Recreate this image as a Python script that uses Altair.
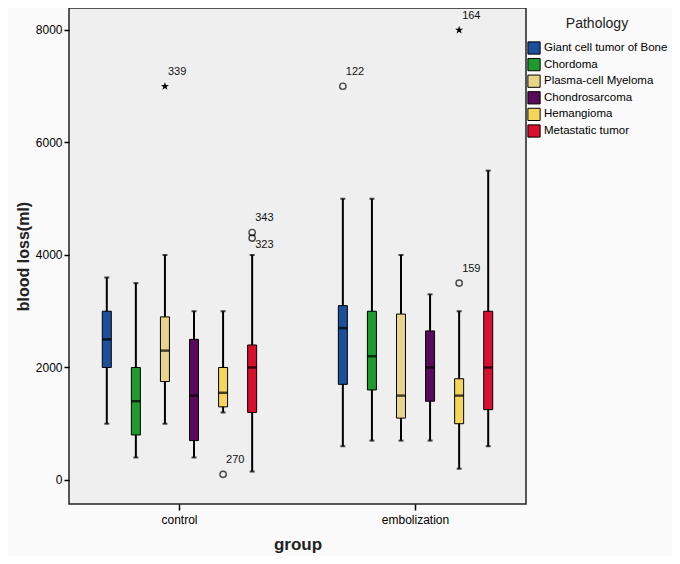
import altair as alt
import pandas as pd

groups = ["control", "embolization"]
pathologies = ["Giant cell tumor of Bone", "Chordoma", "Plasma-cell Myeloma",
               "Chondrosarcoma", "Hemangioma", "Metastatic tumor"]
colors = ["#1c4f9c", "#1f9a2e", "#e9d48a", "#5a0a5a", "#f5d55a", "#d8102e"]

control_low = [1000, 400, 1000, 400, 1200, 150]
control_q1 = [2000, 800, 1750, 700, 1300, 1200]
control_med = [2500, 1400, 2300, 1500, 1550, 2000]
control_q3 = [3000, 2000, 2900, 2500, 2000, 2400]
control_high = [3600, 3500, 4000, 3000, 3000, 4000]

emb_low = [600, 700, 700, 700, 200, 600]
emb_q1 = [1700, 1600, 1100, 1400, 1000, 1250]
emb_med = [2700, 2200, 1500, 2000, 1500, 2000]
emb_q3 = [3100, 3000, 2950, 2650, 1800, 3000]
emb_high = [5000, 5000, 4000, 3300, 3000, 5500]

outlier_group = ["control", "control", "control", "control",
                 "embolization", "embolization", "embolization"]
outlier_path = ["Plasma-cell Myeloma", "Hemangioma", "Metastatic tumor", "Metastatic tumor",
                "Giant cell tumor of Bone", "Hemangioma", "Hemangioma"]
outlier_value = [7000, 100, 4400, 4300, 7000, 3500, 8000]
outlier_case = ["339", "270", "343", "323", "122", "159", "164"]
outlier_kind = ["extreme", "mild", "mild", "mild", "mild", "mild", "extreme"]
label_side = ["above", "above", "above", "below", "above", "above", "above"]

rows = []
for g, lo, q1, md, q3, hi in [
    ("control", control_low, control_q1, control_med, control_q3, control_high),
    ("embolization", emb_low, emb_q1, emb_med, emb_q3, emb_high),
]:
    for i, p in enumerate(pathologies):
        rows.append(dict(group=g, pathology=p, low=lo[i], q1=q1[i],
                         median=md[i], q3=q3[i], high=hi[i]))
stats = pd.DataFrame(rows)

outliers = pd.DataFrame(dict(group=outlier_group, pathology=outlier_path,
                             value=outlier_value, case=outlier_case,
                             kind=outlier_kind, side=label_side))

FONT = "Liberation Sans"

x_enc = alt.X("group:N",
              scale=alt.Scale(domain=groups, paddingInner=0.064, paddingOuter=0),
              axis=alt.Axis(title="group", labelAngle=0, tickSize=6, tickColor="black",
                            tickWidth=1.5, domain=False, labelFontSize=12,
                            labelColor="black", labelPadding=4, titleFontSize=17,
                            titleFontWeight="bold", titleColor="#222", titlePadding=11))
xo_enc = alt.XOffset("pathology:N",
                     scale=alt.Scale(domain=pathologies, paddingInner=0, paddingOuter=0.8))
y_scale = alt.Scale(domain=[-427, 8391], nice=False, zero=False)
y_axis = alt.Axis(title="blood loss(ml)", values=[0, 2000, 4000, 6000, 8000], grid=False,
                  format="d",
                  domain=False, tickSize=5, tickColor="black", tickWidth=1.5,
                  labelFontSize=12, labelColor="black", labelPadding=2,
                  titleFontSize=16, titleFontWeight="bold", titleColor="#222",
                  titlePadding=4)

base = alt.Chart(stats).encode(x=x_enc, xOffset=xo_enc)

whisker = base.mark_rule(color="black", strokeWidth=2).encode(
    y=alt.Y("low:Q", scale=y_scale, axis=y_axis), y2="high:Q")
cap_low = base.mark_tick(color="black", size=5, thickness=2).encode(
    y=alt.Y("low:Q", scale=y_scale))
cap_high = base.mark_tick(color="black", size=5, thickness=2).encode(
    y=alt.Y("high:Q", scale=y_scale))
box = base.mark_bar(size=9, stroke="black", strokeWidth=1).encode(
    y=alt.Y("q1:Q", scale=y_scale), y2="q3:Q",
    color=alt.Color("pathology:N",
                    scale=alt.Scale(domain=pathologies, range=colors),
                    legend=alt.Legend(title="Pathology", orient="none",
                                      legendX=458, legendY=9,
                                      symbolType="square", symbolSize=150,
                                      symbolStrokeColor="black", symbolStrokeWidth=1,
                                      symbolOpacity=1,
                                      labelFontSize=11.5, labelColor="black",
                                      labelLimit=300,
                                      labelOffset=3, rowPadding=-1.4,
                                      titleFontSize=14, titleFontWeight="normal",
                                      titleColor="#222", titleAnchor="middle",
                                      titleAlign="center", titlePadding=10)))
median = base.mark_tick(color="black", size=9, thickness=2.5).encode(
    y=alt.Y("median:Q", scale=y_scale))

obase = alt.Chart(outliers).encode(x=x_enc, xOffset=xo_enc,
                                   y=alt.Y("value:Q", scale=y_scale))
star_path = ("M0,-1L0.2245,-0.309L0.951,-0.309L0.363,0.118L0.588,0.809L0,0.382"
             "L-0.588,0.809L-0.363,0.118L-0.951,-0.309L-0.2245,-0.309Z")
mild = obase.transform_filter(alt.datum.kind == "mild").mark_point(
    shape="circle", filled=False, color="black", size=40, strokeWidth=1.4)
extreme = obase.transform_filter(alt.datum.kind == "extreme").mark_point(
    shape=star_path, filled=True, color="black", size=75, opacity=1)
lab_above = obase.transform_filter(alt.datum.side == "above").mark_text(
    align="left", baseline="middle", dx=3, dy=-14, fontSize=11, color="#111",
    font=FONT).encode(text="case:N")
lab_below = obase.transform_filter(alt.datum.side == "below").mark_text(
    align="left", baseline="middle", dx=3, dy=7, fontSize=11, color="#111",
    font=FONT).encode(text="case:N")

chart = alt.layer(whisker, cap_low, cap_high, box, median, mild, extreme,
                  lab_above, lab_below).properties(
    width=457, height=496,
    autosize=alt.AutoSizeParams(type="none"),
    padding={"left": 61, "top": 0, "right": 146, "bottom": 52},
    background="#fafafa",
    view=alt.ViewBackground(fill="#efefef", stroke="#222", strokeWidth=1.5),
).configure(font=FONT)

chart.save("out.html", embed_options={"renderer": "svg", "actions": False})
